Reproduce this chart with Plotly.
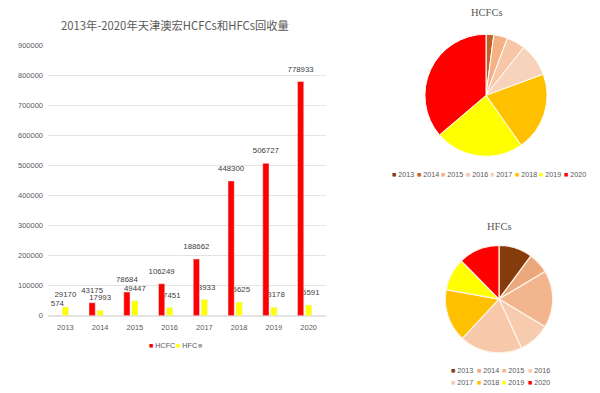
import plotly.graph_objects as go

years = ["2013", "2014", "2015", "2016", "2017", "2018", "2019", "2020"]
hcfc = [574, 43175, 78684, 106249, 188662, 448300, 506727, 778933]
hfc = [29170, 17993, 49447, 27451, 53933, 45625, 28178, 35591]
y_ticks = [0, 100000, 200000, 300000, 400000, 500000, 600000, 700000, 800000, 900000]

hcfc_pie_colors = ["#843C0C", "#C0622A", "#F4B183", "#F6C6A6", "#F8D3BC", "#FFC000", "#FFFF00", "#FF0000"]
hfc_pie_colors = ["#843C0C", "#EBA87C", "#F2B58D", "#F6CBAE", "#F7C9AA", "#FFC000", "#FFFF00", "#FF0000"]

W, H = 600, 393
def px(x):
    return x / W
def py(y):
    return (H - y) / H

GRAY = "#595959"
LBL = "#404040"
TICKFONT = dict(family="Liberation Sans", size=7.5, color=GRAY)
LABELFONT = dict(family="Liberation Sans", size=7.8, color=LBL)

idx = list(range(len(years)))
BW = 0.18
RED_SHIFT = -0.23
x_hfc = [i for i in idx]
x_hcfc = [i + RED_SHIFT for i in idx]

fig = go.Figure()

# HFC on the base axes (drawn first), HCFC on an overlaid pair drawn above,
# so red bars partly cover HFC labels as in the reference.
fig.add_trace(go.Bar(x=x_hfc, y=hfc, name="HFC", marker_color="#FFFF00", width=BW,
                     showlegend=False, xaxis="x", yaxis="y"))
fig.add_trace(go.Scatter(x=x_hfc, y=hfc, mode="markers+text", text=[str(v) for v in hfc],
                         textposition="top center", textfont=LABELFONT,
                         marker=dict(size=11, color="rgba(0,0,0,0)"), cliponaxis=False,
                         showlegend=False, hoverinfo="skip", xaxis="x", yaxis="y"))
fig.add_trace(go.Bar(x=x_hcfc, y=hcfc, name="HCFC", marker_color="#FF0000", width=BW,
                     showlegend=False, xaxis="x2", yaxis="y2"))
fig.add_trace(go.Scatter(x=x_hcfc, y=hcfc, mode="markers+text", text=[str(v) for v in hcfc],
                         textposition="top center", textfont=LABELFONT,
                         marker=dict(size=11, color="rgba(0,0,0,0)"), cliponaxis=False,
                         showlegend=False, hoverinfo="skip", xaxis="x2", yaxis="y2"))

XDOM = [px(48), px(326)]
YDOM = [py(319), py(42)]
fig.update_layout(
    barmode="overlay",
    xaxis=dict(domain=XDOM, range=[-0.5, 7.5], tickvals=idx, ticktext=years,
               showgrid=False, showline=False, zeroline=False, ticks="",
               ticklabelstandoff=6, tickfont=TICKFONT, anchor="y"),
    yaxis=dict(domain=YDOM, range=[0, 900000], tickvals=y_ticks,
               ticktext=[str(v) for v in y_ticks], showgrid=True, gridcolor="#E4E4E4",
               gridwidth=1, zeroline=True, zerolinecolor="#E4E4E4", showline=False,
               ticks="", ticklabelstandoff=4, tickfont=TICKFONT, anchor="x"),
    xaxis2=dict(overlaying="x", range=[-0.5, 7.5], visible=False, anchor="y2"),
    yaxis2=dict(overlaying="y", range=[0, 900000], visible=False, anchor="x2"),
)

# Pies
fig.add_trace(go.Pie(
    labels=years, values=hcfc, sort=False, direction="clockwise", rotation=0,
    marker=dict(colors=hcfc_pie_colors, line=dict(color="white", width=1)),
    textinfo="none", hoverinfo="label+value", showlegend=False,
    domain=dict(x=[px(424), px(548)], y=[py(156), py(31)]),
))
fig.add_trace(go.Pie(
    labels=years, values=hfc, sort=False, direction="clockwise", rotation=0,
    marker=dict(colors=hfc_pie_colors, line=dict(color="#FFF4E8", width=1.2)),
    textinfo="none", hoverinfo="label+value", showlegend=False,
    domain=dict(x=[px(444), px(554)], y=[py(357), py(247)]),
))

ann = []
ann.append(dict(text="2013年-2020年天津澳宏HCFCs和HFCs回收量", x=px(175), y=py(22),
                xref="paper", yref="paper", showarrow=False, xanchor="center", yanchor="middle",
                font=dict(family="Noto Sans CJK SC", size=11.3, color=GRAY)))
ann.append(dict(text="HCFCs", x=px(487), y=py(9), xref="paper", yref="paper", showarrow=False,
                xanchor="center", yanchor="middle",
                font=dict(family="Liberation Serif", size=10.5, color=GRAY)))
ann.append(dict(text="HFCs", x=px(499), y=py(228), xref="paper", yref="paper", showarrow=False,
                xanchor="center", yanchor="middle",
                font=dict(family="Liberation Serif", size=10.5, color=GRAY)))

LEGFONT = dict(family="Liberation Sans", size=7.2, color=GRAY)
# bar legend
bar_leg = [("HCFC", "#FF0000", 147), ("HFC", "#FFFF00", 174), ("", "#A6A6A6", 196)]
for name, col, x0 in bar_leg:
    ann.append(dict(text=f"<span style='color:{col}'>■</span> {name}", x=px(x0), y=py(350),
                    xref="paper", yref="paper", showarrow=False, xanchor="left", yanchor="middle",
                    font=LEGFONT))
# HCFC pie legend
for i, (yr, col) in enumerate(zip(years, hcfc_pie_colors)):
    ann.append(dict(text=f"<span style='color:{col}'>■</span> {yr}", x=px(390 + i * 24.5), y=py(175),
                    xref="paper", yref="paper", showarrow=False, xanchor="left", yanchor="middle",
                    font=LEGFONT))
# HFC pie legend (two rows)
for i, (yr, col) in enumerate(zip(years, hfc_pie_colors)):
    r, c = divmod(i, 4)
    ann.append(dict(text=f"<span style='color:{col}'>■</span> {yr}", x=px(449 + c * 25.7),
                    y=py(375 + r * 12), xref="paper", yref="paper", showarrow=False,
                    xanchor="left", yanchor="middle", font=LEGFONT))

fig.update_layout(
    annotations=ann,
    width=W, height=H, margin=dict(l=0, r=0, t=0, b=0),
    paper_bgcolor="white", plot_bgcolor="white",
    showlegend=False,
)

fig.write_html("out.html")
